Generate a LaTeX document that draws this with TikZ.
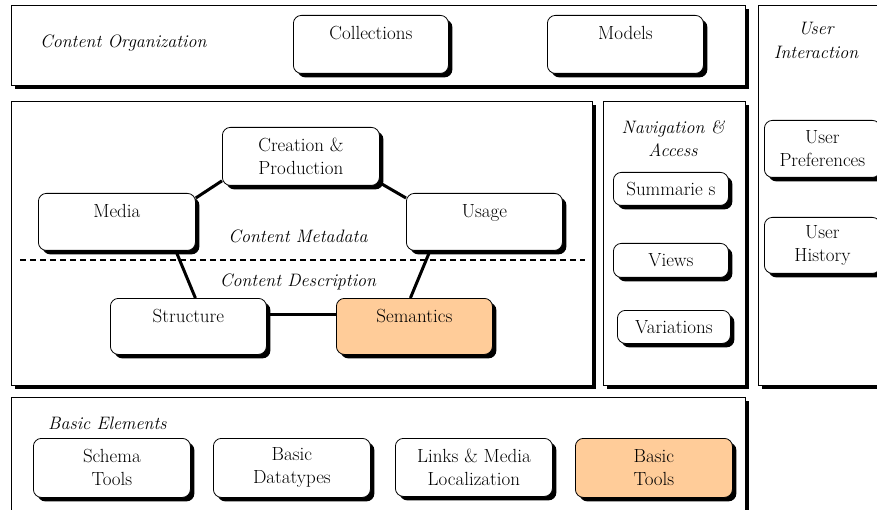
\documentclass[tikz,border=0pt]{standalone}
\usepackage{fontspec}
\usetikzlibrary{shadows}
\definecolor{orangefill}{RGB}{255,204,153}
\begin{document}
\begin{tikzpicture}[x=1pt,y=-1pt,
  shadowed/.style={drop shadow={shadow xshift=4pt,shadow yshift=-4pt,fill=black,opacity=1}},
  panel/.style={draw=black,line width=0.8pt,fill=white,anchor=north west,inner sep=0pt,shadowed},
  rbox/.style={draw=black,line width=0.8pt,fill=white,rounded corners=8pt,inner sep=0pt,
    anchor=north west,align=center,font=\rmfamily\fontsize{19}{23}\selectfont,shadowed},
  onel/.style={text height=24pt,text depth=#1},
  onel/.default=33pt,
  hot/.style={fill=orangefill},
  link/.style={line width=3pt},
  lbl/.style={font=\rmfamily\fontsize{18}{23}\selectfont\itshape,inner sep=0pt,align=center},
  divider/.style={line width=1.2pt,dash pattern=on 6pt off 4pt}
]
\useasboundingbox (0,0) rectangle (877,510);
% panels
\node[panel,minimum width=734,minimum height=80] (org) at (11,5) {};
\node[panel,minimum width=140,minimum height=380] (ui) at (758,5) {};
\node[panel,minimum width=581,minimum height=284] (cm) at (11,101) {};
\node[panel,minimum width=142,minimum height=284] (nav) at (603,101) {};
\node[panel,minimum width=734,minimum height=140] (be) at (11,397) {};
% panel labels
\node[lbl,anchor=west] (orglbl) at (40,43) {Content Organization};
\node[lbl,font=\rmfamily\fontsize{18}{24}\selectfont\itshape] (uilbl) at (816,40) {User\\Interaction};
\node[lbl] (navlbl) at (673,138.5) {Navigation \&\\Access};
\node[lbl] (metalbl) at (298,236) {Content Metadata};
\node[lbl] (desclbl) at (298,282) {Content Description};
\node[lbl,anchor=west] (belbl) at (48,423) {Basic Elements};
% divider
\coordinate (dl) at (20,260);
\coordinate (dr) at (585,260);
\draw[divider] (dl) -- (dr);
% content organization boxes
\node[rbox,onel=34pt,minimum width=155,minimum height=58] (coll) at (293,15) {Collections};
\node[rbox,onel=34pt,minimum width=156,minimum height=58] (models) at (547,15) {Models};
% content metadata boxes
\node[rbox,minimum width=157,minimum height=58] (creation) at (222,127) {Creation \&\\Production};
\node[rbox,onel,minimum width=157,minimum height=57] (media) at (38,193) {Media};
\node[rbox,onel,minimum width=156,minimum height=57] (usage) at (406,193) {Usage};
\node[rbox,onel=32pt,minimum width=156,minimum height=56] (structure) at (110,298) {Structure};
\node[rbox,onel=32pt,hot,minimum width=156,minimum height=56] (semantics) at (336,298) {Semantics};
% connectors
\draw[link] ([yshift=-5pt]media.north east) -- ([yshift=5pt]creation.south west);
\draw[link] ([yshift=3pt]creation.south east) -- ([yshift=-5pt]usage.north west);
\draw[link] ([xshift=-20pt]media.south east) -- ([xshift=7pt]structure.north);
\draw[link] ([xshift=24pt]usage.south west) -- ([xshift=-4pt]semantics.north);
\draw[link] ([yshift=12pt]structure.east) -- ([yshift=12pt]semantics.west);
% navigation boxes
\node[rbox,minimum width=115,minimum height=33] (summ) at (613,172) {Summarie s};
\node[rbox,minimum width=115,minimum height=34] (views) at (613,243) {Views};
\node[rbox,minimum width=113,minimum height=33] (var) at (617,310) {Variations};
% user interaction boxes
\node[rbox,minimum width=116,minimum height=57] (upref) at (764,120) {User\\Preferences};
\node[rbox,minimum width=116,minimum height=56] (uhist) at (764,217) {User\\History};
% basic elements boxes
\node[rbox,minimum width=157,minimum height=59] (schema) at (33,438) {Schema\\Tools};
\node[rbox,minimum width=157,minimum height=59] (dtypes) at (213,438) {Basic\\Datatypes};
\node[rbox,minimum width=157,minimum height=58] (links) at (395,438) {Links \& Media\\Localization};
\node[rbox,hot,minimum width=157,minimum height=59] (btools) at (575,438) {Basic\\Tools};
\end{tikzpicture}
\end{document}
